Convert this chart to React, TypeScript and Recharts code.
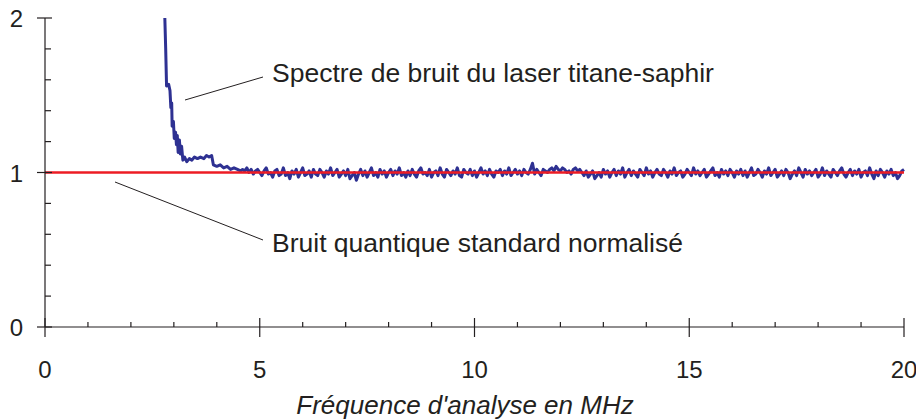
import React from 'react';
import { LineChart, Line, XAxis, YAxis } from 'recharts';

// steep start of the laser noise spectrum (MHz, normalised level)
const headFreq = [
    2.79, 2.81, 2.83, 2.88, 2.91, 2.93, 2.95, 2.96, 2.99, 3.01, 3.04, 3.06, 3.08, 3.1, 3.13, 3.15, 3.18, 3.21,
    3.25, 3.3, 3.36, 3.42, 3.48, 3.55, 3.62, 3.7, 3.76, 3.82, 3.88, 3.92, 4.0, 4.08, 4.16, 4.24, 4.32, 4.4, 4.48, 4.55,
];
const headLevel = [
    2.0, 1.8, 1.56, 1.57, 1.53, 1.42, 1.45, 1.3, 1.33, 1.22, 1.26, 1.18, 1.24, 1.13, 1.21, 1.12, 1.17, 1.08,
    1.1, 1.07, 1.09, 1.08, 1.1, 1.09, 1.1, 1.09, 1.11, 1.1, 1.11, 1.05, 1.04, 1.05, 1.03, 1.04, 1.02, 1.03, 1.02, 1.01,
];

// flat part, one sample every 0.05 MHz starting at 4.6 MHz
const tailStart = 4.6;
const tailStep = 0.05;
const noise5to8 = [
    1.02, 1.01, 1.03, 1.0, 1.02, 0.99, 1.01, 1.02, 1.0, 0.98, 1.01, 1.03, 0.99, 1.0, 0.97, 1.01, 1.02, 0.98, 0.99, 1.03,
    0.98, 1.0, 0.96, 1.01, 0.99, 1.02, 0.97, 1.0, 1.03, 0.98, 0.99, 1.01, 0.97, 1.02, 0.99, 0.98, 1.02, 1.0, 0.97, 1.01,
    0.99, 1.03, 0.98, 1.0, 1.02, 0.97, 0.99, 1.01, 0.98, 1.02, 0.96, 0.98, 1.0, 0.95, 0.99, 1.02, 0.98, 1.01, 0.97, 1.0,
    1.03, 0.98, 1.0, 0.97, 1.02, 0.99, 1.01, 0.97, 1.0, 1.02, 0.98, 1.01, 0.99, 1.03, 0.98, 1.0, 0.97,
];
const noise8to12 = [
    1.01, 0.98, 1.02, 0.99, 0.97, 1.01, 1.03, 0.99, 1.0, 0.98, 1.02, 0.97, 1.0, 1.01, 0.98, 1.03, 0.99, 0.97, 1.02, 1.0,
    0.98, 1.01, 0.99, 1.03, 0.98, 0.97, 1.02, 1.0, 0.99, 1.02, 0.98, 1.01, 0.97, 1.0, 1.03, 0.99, 1.01, 0.98, 1.02, 0.99,
    0.97, 1.01, 1.0, 1.02, 0.98, 1.01, 0.99, 1.03, 0.98, 1.0, 1.02, 0.99, 1.01, 0.98, 1.02, 1.0, 0.99, 1.02, 1.06, 0.99,
    1.02, 1.0, 0.98, 1.02, 1.01, 1.0, 1.02, 1.03, 1.01, 1.04, 1.02, 1.01, 1.03, 1.02, 1.0, 1.01, 0.99,
];
const noise12to16 = [
    1.02, 1.03, 1.01, 1.02, 1.0, 0.98, 1.01, 0.97, 0.99, 1.01, 0.96, 0.98, 1.0, 0.97, 1.02, 0.99, 1.01, 0.97, 1.0, 1.02,
    0.98, 1.01, 0.99, 1.03, 0.97, 1.0, 1.02, 0.98, 1.01, 0.99, 0.97, 1.02, 1.0, 0.98, 1.03, 0.99, 1.01, 0.97, 1.0, 1.02,
    0.99, 0.98, 1.02, 1.0, 0.97, 1.01, 0.99, 1.03, 0.98, 1.0, 1.01, 0.97, 0.99, 1.02, 1.0, 0.98, 1.03, 0.99, 1.01, 0.98,
    1.0, 1.02, 0.97, 0.99, 1.01, 1.03, 0.98, 1.0, 0.97, 1.02, 0.99, 1.01, 0.98, 1.02, 1.0, 0.97, 1.01,
];
const noise16to20 = [
    0.99, 1.02, 0.98, 1.01, 0.97, 1.0, 1.03, 0.98, 0.99, 1.02, 1.0, 0.97, 1.01, 0.99, 1.03, 0.98, 1.0, 1.02, 0.97, 0.99,
    1.01, 0.98, 1.02, 1.0, 0.96, 0.99, 1.01, 0.98, 1.03, 1.0, 0.97, 1.02, 0.99, 1.01, 0.98, 1.0, 1.02, 0.97, 0.99, 1.03,
    0.98, 1.01, 0.99, 0.97, 1.02, 1.0, 0.98, 1.01, 1.03, 0.99, 0.97, 1.0, 1.02, 0.98, 1.01, 0.99, 1.02, 0.97, 1.0, 1.01,
    0.98, 1.03, 0.99, 0.96, 1.01, 0.98, 1.02, 1.0, 0.97, 1.01, 0.99, 1.02, 0.98, 1.0, 0.96, 0.98, 1.01, 1.02,
];

// standard quantum limit (normalised)
const quantumFreq = [0, 20];
const quantumLevel = [1, 1];

const xTicks = [0, 1, 2, 3, 4, 5, 6, 7, 8, 9, 10, 11, 12, 13, 14, 15, 16, 17, 18, 19, 20];
const yTicks = [0, 0.2, 0.4, 0.6, 0.8, 1, 1.2, 1.4, 1.6, 1.8, 2];

const ink = '#231f20';
const font = '"Liberation Sans", Arial, Helvetica, sans-serif';

const tail = [...noise5to8, ...noise8to12, ...noise12to16, ...noise16to20];
const spectrum = [
    ...headFreq.map((f, i) => ({ f, v: headLevel[i] })),
    ...tail.map((v, i) => ({ f: +(tailStart + i * tailStep).toFixed(2), v })),
];
const quantum = quantumFreq.map((f, i) => ({ f, v: quantumLevel[i] }));

const XTick = (props: any) => {
    const { x, y, payload } = props;
    const major = payload.value % 5 === 0;
    return (
        <g>
            <line x1={x} x2={x} y1={major ? y - 9 : y - 5} y2={major ? y + 10 : y} stroke={ink} strokeWidth={1.2} />
            {major && (
                <text x={x} y={y + 51} textAnchor="middle" fontSize={24} fontFamily={font} fill={ink}>
                    {payload.value}
                </text>
            )}
        </g>
    );
};

const YTick = (props: any) => {
    const { x, y, payload } = props;
    const major = Number.isInteger(payload.value);
    return (
        <g>
            <line x1={major ? x - 8 : x} x2={major ? x + 7 : x + 6} y1={y} y2={y} stroke={ink} strokeWidth={1.2} />
            {major && (
                <text x={x - 22} y={y + 9} textAnchor="end" fontSize={24} fontFamily={font} fill={ink}>
                    {payload.value}
                </text>
            )}
        </g>
    );
};

export default function App() {
    return (
        <div style={{ position: 'absolute', left: 0, top: 0, width: 916, height: 420, background: '#fff' }}>
            <LineChart width={916} height={420} margin={{ top: 18, right: 12, left: 0, bottom: 0 }}>
                <XAxis
                    type="number"
                    dataKey="f"
                    domain={[0, 20]}
                    ticks={xTicks}
                    interval={0}
                    height={93}
                    tickSize={0}
                    tickMargin={0}
                    tickLine={false}
                    tick={<XTick />}
                    axisLine={{ stroke: ink, strokeWidth: 1.2 }}
                />
                <YAxis
                    type="number"
                    domain={[0, 2]}
                    ticks={yTicks}
                    interval={0}
                    width={45}
                    allowDataOverflow
                    tickSize={0}
                    tickMargin={0}
                    tickLine={false}
                    tick={<YTick />}
                    axisLine={{ stroke: ink, strokeWidth: 1.2 }}
                />
                <Line
                    data={spectrum}
                    dataKey="v"
                    type="linear"
                    stroke="#2e3192"
                    strokeWidth={3}
                    strokeLinejoin="round"
                    dot={false}
                    isAnimationActive={false}
                />
                <Line
                    data={quantum}
                    dataKey="v"
                    type="linear"
                    stroke="#ed1c24"
                    strokeWidth={2.6}
                    dot={false}
                    isAnimationActive={false}
                />
            </LineChart>
            <svg
                width={916}
                height={420}
                style={{ position: 'absolute', left: 0, top: 0, pointerEvents: 'none' }}
                fontFamily={font}
                fill={ink}
            >
                <line x1={185} y1={100} x2={263} y2={77} stroke={ink} strokeWidth={1} />
                <text x={272} y={82} fontSize={26.5}>
                    Spectre de bruit du laser titane-saphir
                </text>
                <line x1={115} y1={182} x2={263} y2={240} stroke={ink} strokeWidth={1} />
                <text x={272} y={252} fontSize={26.5}>
                    Bruit quantique standard normalisé
                </text>
                <text x={465} y={414} fontSize={26} fontStyle="italic" textAnchor="middle">
                    Fréquence d'analyse en MHz
                </text>
            </svg>
        </div>
    );
}
